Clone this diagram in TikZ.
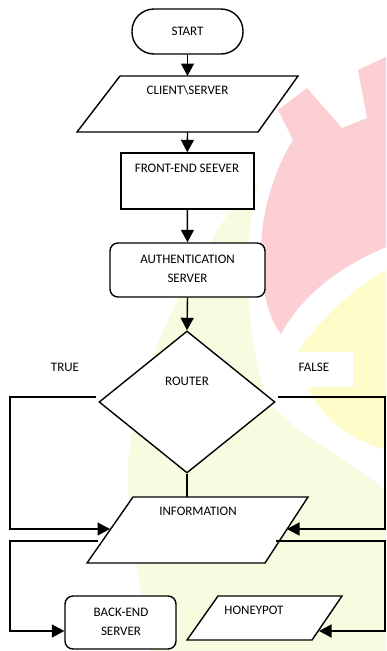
\documentclass[tikz,border=0pt]{standalone}
\usepackage{fontspec}
\setmainfont{Carlito}
\usetikzlibrary{shapes.geometric,arrows.meta}
\definecolor{wmpink}{RGB}{251,207,212}
\definecolor{wmyellow}{RGB}{254,252,200}
\definecolor{wmpale}{RGB}{247,251,224}
\begin{document}
\begin{tikzpicture}[x=1pt,y=-1pt,
  every node/.style={font=\fontsize{13}{19}\selectfont},
  shapebox/.style={draw, line width=1.4pt, fill=white, inner sep=0pt},
  termbox/.style={shapebox, rectangle, rounded corners=22pt, minimum width=111pt, minimum height=45pt},
  procbox/.style={shapebox, rectangle, minimum width=133pt, minimum height=56pt},
  roundbox/.style={shapebox, rectangle, rounded corners=8pt, align=center},
  iobox/.style={draw, line width=1.4pt, fill=white, line join=miter},
  decbox/.style={shapebox, diamond, minimum width=176pt, minimum height=142pt},
  txt/.style={inner sep=0pt, align=center},
  link/.style={line width=1.4pt},
  arr/.style={link, -{Triangle[length=12.5pt,width=13pt]}}
]
\useasboundingbox (0,0) rectangle (386,651);

% faint background emblem
\fill[wmpale] (250,185) .. controls (190,260) and (130,380) .. (128,470)
  .. controls (128,540) and (145,600) .. (150,651) -- (386,651) -- (386,490)
  .. controls (340,455) and (290,430) .. (268,400)
  .. controls (255,370) and (248,320) .. (248,270)
  .. controls (248,230) and (252,205) .. (258,185) -- cycle;
\fill[wmyellow] (298,352) .. controls (315,325) and (350,290) .. (386,270)
  -- (386,450) .. controls (345,438) and (305,410) .. (298,352) -- cycle;
\fill[wmpink] (278,110) -- (307,88) -- (342,128) -- (367,118) -- (358,70)
  -- (386,57) -- (386,247) .. controls (345,265) and (305,290) .. (281,334)
  .. controls (265,315) and (258,270) .. (262,232)
  .. controls (266,195) and (280,160) .. (293,140) -- cycle;

% flowchart boxes
\node[termbox] (start) at (187.5,31.5) {};
\node[txt] (starttxt) at (187.5,31.5) {START};

% input/output parallelograms, drawn from their corners
\draw[iobox] (120,76) -- (298,76) -- (258,132) -- (77,132) -- cycle;
\coordinate (cs-top) at (187.5,76);
\coordinate (cs-bot) at (187.5,132);
\node[txt] (cstxt) at (187.5,90) {CLIENT\textbackslash SERVER};

\node[procbox] (fe) at (187.3,181) {};
\node[txt] (fetxt) at (187,168) {FRONT-END SEEVER};

\node[roundbox, minimum width=155pt, minimum height=54pt] (auth) at (187.5,270) {};
\node[txt] (authtxt) at (187.5,269) {AUTHENTICATION\\SERVER};

\node[decbox] (router) at (187,402) {};
\node[txt] (routertxt) at (187,381) {ROUTER};

\draw[iobox] (133,497) -- (308,497) -- (265,563) -- (87,563) -- cycle;
\coordinate (info-top) at (187,497);
\coordinate (info-inl) at (110,529);
\coordinate (info-inr) at (287,529);
\coordinate (info-outl) at (98,541);
\coordinate (info-outr) at (276,541);
\node[txt] (infotxt) at (198,511) {INFORMATION};

\node[roundbox, minimum width=111pt, minimum height=53pt] (back) at (120.5,622.5) {};
\node[txt] (backtxt) at (121,622) {BACK-END\\SERVER};

\draw[iobox] (218,596) -- (342,596) -- (312,640) -- (187,640) -- cycle;
\coordinate (hp-in) at (319,631);
\node[txt] (hptxt) at (254,610) {HONEYPOT};

% branch labels
\node[txt] (truetxt) at (65,367) {TRUE};
\node[fill=white, minimum width=66pt, minimum height=35pt, inner sep=0pt] (falsebg) at (320,369.5) {};
\node[txt] (falsetxt) at (314,367) {FALSE};

% connectors
\coordinate (tcorner) at (10,397);
\coordinate (fcorner) at (385,397);
\coordinate (bcorner) at (10,631);
\coordinate (hcorner) at (385,631);

\draw[arr] (start.south) -- (cs-top);
\draw[arr] (cs-bot) -- (fe.north);
\draw[arr] (fe.south) -- (auth.north);
\draw[arr] (auth.south) -- (router.north);
\draw[link] (router.south) -- (info-top);

\draw[arr] ([xshift=-2pt,yshift=5pt]router.west) -| (tcorner) |- (info-inl);
\draw[arr] ([xshift=2pt,yshift=5pt]router.east) -| (fcorner) |- (info-inr);
\draw[arr] (info-outl) -| (bcorner) -- (bcorner -| back.west);
\draw[arr] (info-outr) -| (hcorner) -- (hp-in);
\end{tikzpicture}
\end{document}
